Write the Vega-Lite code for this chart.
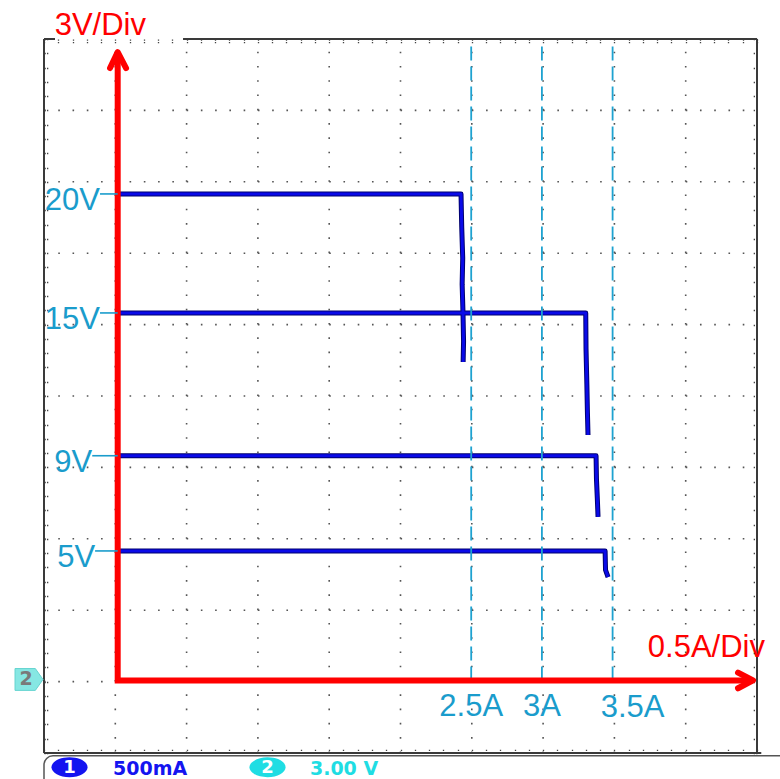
{
  "$schema": "https://vega.github.io/schema/vega-lite/v6.json",
  "width": 713,
  "height": 714,
  "autosize": {"type": "none"},
  "padding": {"left": 44, "top": 39, "right": 23, "bottom": 26},
  "background": "white",
  "config": {
    "view": {"stroke": null},
    "axis": {"labels": false, "domain": false, "grid": false, "tickSize": -5, "tickColor": "#444444", "tickWidth": 1.3, "tickDash": [1.3, 1.2]}
  },
  "datasets": {
    "divisions": [{"d": 1}, {"d": 2}, {"d": 3}, {"d": 4}, {"d": 5}, {"d": 6}, {"d": 7}, {"d": 8}, {"d": 9}],
    "frame": [
      {"x0": 0, "x1": 0, "y0": 0, "y1": 10},
      {"x0": 10, "x1": 10, "y0": 0, "y1": 10},
      {"x0": 0, "x1": 10.06, "y0": 0, "y1": 0},
      {"x0": 0, "x1": 0.154, "y0": 10, "y1": 10},
      {"x0": 1.95, "x1": 10, "y0": 10, "y1": 10}
    ],
    "statusbar": [{"x0": 0, "x1": 12, "y0": -0.04, "y1": -1}],
    "channels": [
      {"ch": "1", "bx": 0.358, "tx": 0.968, "scale": "500mA"},
      {"ch": "2", "bx": 3.135, "tx": 3.73, "scale": "3.00 V"}
    ],
    "ground": [{"ch": "2", "x": -0.21, "y": 1.03}],
    "traces": [
      {"s": "20V", "o": 1, "a": 0, "v": 20},
      {"s": "20V", "o": 2, "a": 2.428, "v": 20},
      {"s": "20V", "o": 3, "a": 2.433, "v": 18.6},
      {"s": "20V", "o": 4, "a": 2.44, "v": 17.3},
      {"s": "20V", "o": 5, "a": 2.436, "v": 16.2},
      {"s": "20V", "o": 6, "a": 2.442, "v": 15},
      {"s": "20V", "o": 7, "a": 2.446, "v": 13.8},
      {"s": "20V", "o": 8, "a": 2.443, "v": 12.94},
      {"s": "15V", "o": 1, "a": 0, "v": 15},
      {"s": "15V", "o": 2, "a": 3.31, "v": 15},
      {"s": "15V", "o": 3, "a": 3.312, "v": 13.5},
      {"s": "15V", "o": 4, "a": 3.318, "v": 12},
      {"s": "15V", "o": 5, "a": 3.322, "v": 10.8},
      {"s": "15V", "o": 6, "a": 3.326, "v": 9.87},
      {"s": "9V", "o": 1, "a": 0, "v": 9},
      {"s": "9V", "o": 2, "a": 3.383, "v": 9},
      {"s": "9V", "o": 3, "a": 3.386, "v": 8},
      {"s": "9V", "o": 4, "a": 3.392, "v": 7.2},
      {"s": "9V", "o": 5, "a": 3.397, "v": 6.43},
      {"s": "5V", "o": 1, "a": 0, "v": 5},
      {"s": "5V", "o": 2, "a": 3.447, "v": 5},
      {"s": "5V", "o": 3, "a": 3.45, "v": 4.2},
      {"s": "5V", "o": 4, "a": 3.468, "v": 3.9}
    ],
    "cursors": [{"a": 2.5, "t": "2.5A"}, {"a": 3, "t": "3A"}, {"a": 3.5, "t": "3.5A"}],
    "axisL": [
      {"o": 1, "a": 0, "v": 25.96},
      {"o": 2, "a": 0, "v": -0.44},
      {"o": 3, "a": 4.493, "v": -0.44}
    ],
    "arrows": [
      {"g": "up", "o": 1, "a": -0.054, "v": 25.29},
      {"g": "up", "o": 2, "a": 0, "v": 25.96},
      {"g": "up", "o": 3, "a": 0.059, "v": 25.29},
      {"g": "right", "o": 1, "a": 4.387, "v": -0.11},
      {"g": "right", "o": 2, "a": 4.493, "v": -0.44},
      {"g": "right", "o": 3, "a": 4.387, "v": -0.77}
    ],
    "levels": [
      {"t": "20V", "v": 20, "a": -0.125},
      {"t": "15V", "v": 15, "a": -0.125},
      {"t": "9V", "v": 9, "a": -0.18},
      {"t": "5V", "v": 5, "a": -0.16}
    ],
    "units": [
      {"t": "3V/Div", "a": 0, "v": 25.96},
      {"t": "0.5A/Div", "a": 4.493, "v": -0.44}
    ]
  },
  "layer": [
    {
      "layer": [
        {
          "data": {"name": "divisions"},
          "mark": {"type": "rule", "color": "#555555", "strokeWidth": 1.6, "strokeDash": [1.6, 12.68]},
          "encoding": {
            "x": {"field": "d", "type": "quantitative", "scale": {"domain": [0, 10], "nice": false, "zero": false},
                  "axis": {"orient": "bottom", "title": null, "values": [0,0.2,0.4,0.6,0.8,1,1.2,1.4,1.6,1.8,2,2.2,2.4,2.6,2.8,3,3.2,3.4,3.6,3.8,4,4.2,4.4,4.6,4.8,5,5.2,5.4,5.6,5.8,6,6.2,6.4,6.6,6.8,7,7.2,7.4,7.6,7.8,8,8.2,8.4,8.6,8.8,9,9.2,9.4,9.6,9.8,10]}},
            "y": {"datum": 0, "type": "quantitative", "scale": {"domain": [0, 10], "nice": false, "zero": false},
                  "axis": {"orient": "left", "title": null, "values": [0,0.2,0.4,0.6,0.8,1,1.2,1.4,1.6,1.8,2,2.2,2.4,2.6,2.8,3,3.2,3.4,3.6,3.8,4,4.2,4.4,4.6,4.8,5,5.2,5.4,5.6,5.8,6,6.2,6.4,6.6,6.8,7,7.2,7.4,7.6,7.8,8,8.2,8.4,8.6,8.8,9,9.2,9.4,9.6,9.8,10]}},
            "y2": {"datum": 10}
          }
        },
        {
          "data": {"name": "divisions"},
          "mark": {"type": "rule", "color": "#555555", "strokeWidth": 1.6, "strokeDash": [1.6, 12.66]},
          "encoding": {
            "y": {"field": "d", "type": "quantitative",
                  "axis": {"orient": "right", "title": null, "values": [0,0.2,0.4,0.6,0.8,1,1.2,1.4,1.6,1.8,2,2.2,2.4,2.6,2.8,3,3.2,3.4,3.6,3.8,4,4.2,4.4,4.6,4.8,5,5.2,5.4,5.6,5.8,6,6.2,6.4,6.6,6.8,7,7.2,7.4,7.6,7.8,8,8.2,8.4,8.6,8.8,9,9.2,9.4,9.6,9.8,10]}},
            "x": {"datum": 0, "type": "quantitative",
                  "axis": {"orient": "top", "title": null, "values": [0,0.2,0.4,0.6,0.8,1,1.2,1.4,1.6,1.8,2,2.2,2.4,2.6,2.8,3,3.2,3.4,3.6,3.8,4,4.2,4.4,4.6,4.8,5,5.2,5.4,5.6,5.8,6,6.2,6.4,6.6,6.8,7,7.2,7.4,7.6,7.8,8,8.2,8.4,8.6,8.8,9,9.2,9.4,9.6,9.8,10]}},
            "x2": {"datum": 10}
          }
        },
        {
          "data": {"name": "statusbar"},
          "mark": {"type": "rect", "filled": false, "color": "#555555", "strokeWidth": 1.5, "cornerRadius": 9},
          "encoding": {
            "x": {"field": "x0", "type": "quantitative", "axis": null},
            "x2": {"field": "x1"},
            "y": {"field": "y0", "type": "quantitative", "axis": null},
            "y2": {"field": "y1"}
          }
        },
        {
          "data": {"name": "frame"},
          "mark": {"type": "rule", "color": "#3a3a3a", "strokeWidth": 2},
          "encoding": {
            "x": {"field": "x0", "type": "quantitative", "axis": null},
            "x2": {"field": "x1"},
            "y": {"field": "y0", "type": "quantitative", "axis": null},
            "y2": {"field": "y1"}
          }
        },
        {
          "data": {"name": "channels"},
          "mark": {"type": "point", "shape": "M-1,0A1,0.55,0,1,0,1,0A1,0.55,0,1,0,-1,0Z", "size": 1300, "filled": true, "opacity": 1},
          "encoding": {
            "x": {"field": "bx", "type": "quantitative", "axis": null},
            "y": {"datum": -0.2, "type": "quantitative", "axis": null},
            "color": {"field": "ch", "type": "nominal", "scale": {"domain": ["1", "2"], "range": ["#1414f0", "#1fdde3"]}, "legend": null}
          }
        },
        {
          "data": {"name": "channels"},
          "mark": {"type": "text", "color": "white", "font": "DejaVu Sans", "fontWeight": "bold", "fontSize": 18, "baseline": "middle", "align": "center", "dy": 1},
          "encoding": {
            "x": {"field": "bx", "type": "quantitative", "axis": null},
            "y": {"datum": -0.2, "type": "quantitative", "axis": null},
            "text": {"field": "ch"}
          }
        },
        {
          "data": {"name": "channels"},
          "mark": {"type": "text", "font": "DejaVu Sans", "fontWeight": "bold", "fontSize": 19, "baseline": "alphabetic", "align": "left"},
          "encoding": {
            "x": {"field": "tx", "type": "quantitative", "axis": null},
            "y": {"datum": -0.31, "type": "quantitative", "axis": null},
            "text": {"field": "scale"},
            "color": {"field": "ch", "type": "nominal", "legend": null}
          }
        },
        {
          "data": {"name": "ground"},
          "mark": {"type": "point", "shape": "M-1,-0.78L0.45,-0.78L1,0L0.45,0.78L-1,0.78Z", "size": 784, "filled": true, "opacity": 1, "fill": "#86e7e3", "stroke": "#66d4d0", "strokeWidth": 1},
          "encoding": {
            "x": {"field": "x", "type": "quantitative", "axis": null},
            "y": {"field": "y", "type": "quantitative", "axis": null}
          }
        },
        {
          "data": {"name": "ground"},
          "mark": {"type": "text", "color": "#7a7a7a", "font": "DejaVu Sans", "fontWeight": "bold", "fontSize": 19, "baseline": "middle", "align": "center", "dx": -3},
          "encoding": {
            "x": {"field": "x", "type": "quantitative", "axis": null},
            "y": {"field": "y", "type": "quantitative", "axis": null},
            "text": {"field": "ch"}
          }
        }
      ],
      "resolve": {"axis": {"x": "independent", "y": "independent"}}
    },
    {
      "layer": [
        {
          "data": {"name": "traces"},
          "mark": {"type": "line", "color": "#00006e", "strokeWidth": 5, "strokeJoin": "round"},
          "encoding": {
            "x": {"field": "a", "type": "quantitative", "scale": {"domain": [-0.5212, 4.5212], "nice": false, "zero": false}, "axis": null},
            "y": {"field": "v", "type": "quantitative", "scale": {"domain": [-3.49, 26.51], "nice": false, "zero": false}, "axis": null},
            "detail": {"field": "s"},
            "order": {"field": "o"}
          }
        },
        {
          "data": {"name": "traces"},
          "mark": {"type": "line", "color": "#0a0ae8", "strokeWidth": 3, "strokeJoin": "round"},
          "encoding": {
            "x": {"field": "a", "type": "quantitative", "axis": null},
            "y": {"field": "v", "type": "quantitative", "axis": null},
            "detail": {"field": "s"},
            "order": {"field": "o"}
          }
        },
        {
          "data": {"name": "cursors"},
          "mark": {"type": "rule", "color": "#1ea2d0", "strokeWidth": 1.8, "strokeDash": [14, 6]},
          "encoding": {
            "x": {"field": "a", "type": "quantitative", "axis": null},
            "y": {"datum": -0.44, "type": "quantitative", "axis": null},
            "y2": {"datum": 26.2}
          }
        },
        {
          "data": {"name": "axisL"},
          "mark": {"type": "line", "color": "#ff0000", "strokeWidth": 6, "strokeJoin": "miter", "strokeCap": "butt"},
          "encoding": {
            "x": {"field": "a", "type": "quantitative", "axis": null},
            "y": {"field": "v", "type": "quantitative", "axis": null},
            "order": {"field": "o"}
          }
        },
        {
          "data": {"name": "arrows"},
          "mark": {"type": "line", "color": "#ff0000", "strokeWidth": 6, "strokeJoin": "round", "strokeCap": "round"},
          "encoding": {
            "x": {"field": "a", "type": "quantitative", "axis": null},
            "y": {"field": "v", "type": "quantitative", "axis": null},
            "detail": {"field": "g"},
            "order": {"field": "o"}
          }
        },
        {
          "data": {"name": "levels"},
          "mark": {"type": "rule", "color": "#1a9ccc", "strokeWidth": 1.6},
          "encoding": {
            "x": {"field": "a", "type": "quantitative", "axis": null},
            "x2": {"datum": 0},
            "y": {"field": "v", "type": "quantitative", "axis": null}
          }
        },
        {
          "data": {"name": "levels"},
          "mark": {"type": "text", "color": "#1a9ccc", "font": "Liberation Sans", "fontSize": 31, "align": "right", "baseline": "alphabetic", "dy": 16},
          "encoding": {
            "x": {"field": "a", "type": "quantitative", "axis": null},
            "y": {"field": "v", "type": "quantitative", "axis": null},
            "text": {"field": "t"}
          }
        },
        {
          "data": {"name": "cursors"},
          "transform": [{"filter": "datum.a < 3.25"}],
          "mark": {"type": "text", "color": "#1a9ccc", "font": "Liberation Sans", "fontSize": 31, "align": "center", "baseline": "alphabetic", "dy": 36},
          "encoding": {
            "x": {"field": "a", "type": "quantitative", "axis": null},
            "y": {"datum": -0.44, "type": "quantitative", "axis": null},
            "text": {"field": "t"}
          }
        },
        {
          "data": {"name": "cursors"},
          "transform": [{"filter": "datum.a > 3.25"}],
          "mark": {"type": "text", "color": "#1a9ccc", "font": "Liberation Sans", "fontSize": 31, "align": "center", "baseline": "alphabetic", "dy": 37, "dx": 20},
          "encoding": {
            "x": {"field": "a", "type": "quantitative", "axis": null},
            "y": {"datum": -0.44, "type": "quantitative", "axis": null},
            "text": {"field": "t"}
          }
        },
        {
          "data": {"name": "units"},
          "transform": [{"filter": "datum.t == '3V/Div'"}],
          "mark": {"type": "text", "color": "#ff0000", "font": "Liberation Sans", "fontSize": 31, "align": "left", "baseline": "alphabetic", "dx": -63, "dy": -17},
          "encoding": {
            "x": {"field": "a", "type": "quantitative", "axis": null},
            "y": {"field": "v", "type": "quantitative", "axis": null},
            "text": {"field": "t"}
          }
        },
        {
          "data": {"name": "units"},
          "transform": [{"filter": "datum.t == '0.5A/Div'"}],
          "mark": {"type": "text", "color": "#ff0000", "font": "Liberation Sans", "fontSize": 31, "align": "right", "baseline": "alphabetic", "dx": 12, "dy": -23.5},
          "encoding": {
            "x": {"field": "a", "type": "quantitative", "axis": null},
            "y": {"field": "v", "type": "quantitative", "axis": null},
            "text": {"field": "t"}
          }
        }
      ]
    }
  ],
  "resolve": {"scale": {"x": "independent", "y": "independent"}, "axis": {"x": "independent", "y": "independent"}}
}
